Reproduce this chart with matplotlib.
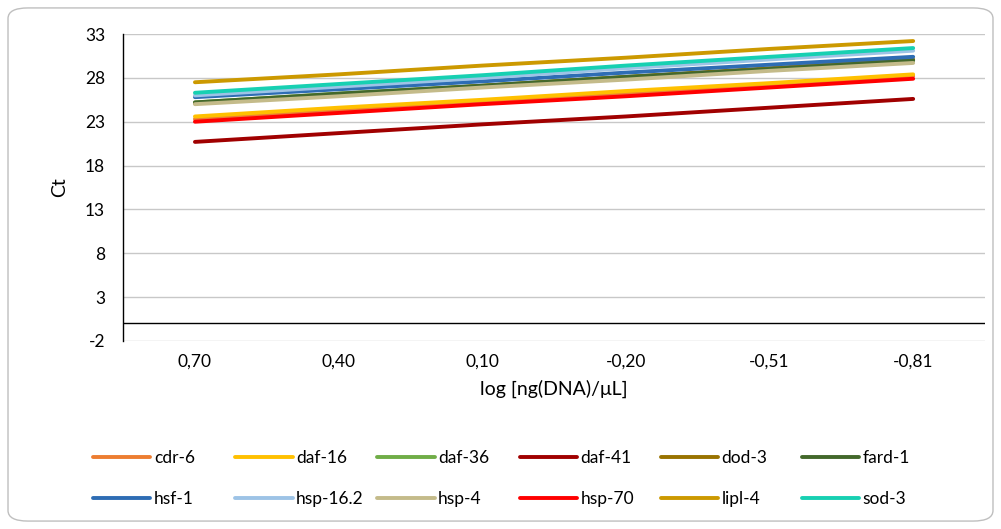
import matplotlib
matplotlib.use("Agg")
import matplotlib.pyplot as plt
from matplotlib.patches import FancyBboxPatch

plt.rcParams["font.family"] = ["Lato", "DejaVu Sans"]
plt.rcParams["axes.unicode_minus"] = False

# log concentration categories (x axis, shown as text)
x_labels = ["0,70", "0,40", "0,10", "-0,20", "-0,51", "-0,81"]

genes = ["cdr-6", "daf-16", "daf-36", "daf-41", "dod-3", "fard-1",
         "hsf-1", "hsp-16.2", "hsp-4", "hsp-70", "lipl-4", "sod-3"]

cdr6 = [23.3, 24.3, 25.2, 26.2, 27.2, 28.2]
daf16 = [23.6, 24.6, 25.5, 26.5, 27.4, 28.4]
daf36 = [25.2, 26.2, 27.1, 28.1, 29.0, 30.0]
daf41 = [20.7, 21.7, 22.7, 23.6, 24.6, 25.6]
dod3 = [25.1, 26.1, 27.1, 28.1, 29.1, 30.1]
fard1 = [25.2, 26.2, 27.1, 28.1, 29.0, 30.0]
hsf1 = [25.8, 26.7, 27.6, 28.6, 29.5, 30.4]
hsp16_2 = [26.0, 27.0, 28.0, 29.1, 30.1, 31.1]
hsp4 = [25.0, 25.9, 26.9, 27.8, 28.8, 29.7]
hsp70 = [23.0, 24.0, 25.0, 25.9, 26.9, 27.9]
lipl4 = [27.5, 28.4, 29.4, 30.3, 31.3, 32.2]
sod3 = [26.3, 27.3, 28.3, 29.4, 30.4, 31.4]

series = [cdr6, daf16, daf36, daf41, dod3, fard1,
          hsf1, hsp16_2, hsp4, hsp70, lipl4, sod3]
colors = ["#ED7D31", "#FFC000", "#70AD47", "#A00000", "#997300", "#43682B",
          "#2E6DB4", "#9DC3E6", "#C4BB8A", "#FF0000", "#CC9900", "#17D0B2"]

y_ticks = [-2, 3, 8, 13, 18, 23, 28, 33]

fig = plt.figure(figsize=(10.01, 5.29), dpi=100)
fig.patches.append(FancyBboxPatch((0.008, 0.015), 0.984, 0.970,
                                  boxstyle="round,pad=0,rounding_size=0.02",
                                  transform=fig.transFigure, facecolor="white",
                                  edgecolor="#bfbfbf", linewidth=1.0, zorder=-1))

ax = fig.add_axes([0.123, 0.3554, 0.861, 0.5803])
ax.set_facecolor("none")
xs = range(len(x_labels))
lines = []
for name, vals, col in zip(genes, series, colors):
    ln, = ax.plot(xs, vals, color=col, lw=2.8, label=name, solid_capstyle="round")
    lines.append(ln)

ax.axhline(0, color="black", lw=1.0, zorder=1)
ax.set_xlim(-0.5, len(x_labels) - 0.5)
ax.set_ylim(-2, 33)
ax.set_yticks(y_ticks)
ax.set_xticks(list(xs))
ax.set_xticklabels(x_labels)
ax.tick_params(axis="both", length=0, labelsize=12.5, colors="#000000")
ax.tick_params(axis="y", pad=13)
ax.tick_params(axis="x", pad=9)
ax.yaxis.grid(True, color="#c8c8c8", lw=1.0)
ax.set_axisbelow(True)
for s in ["top", "right", "bottom"]:
    ax.spines[s].set_visible(False)
ax.spines["left"].set_color("#000000")
ax.spines["left"].set_linewidth(1.0)
ax.set_ylabel("Ct", fontsize=14, labelpad=12)
ax.set_xlabel("log [ng(DNA)/μL]", fontsize=14, labelpad=7)

# legend: one small legend per column so the columns are evenly spaced like the original
col_x = [0.093, 0.235, 0.377, 0.519, 0.660, 0.801]
for j, x0 in enumerate(col_x):
    fig.legend([lines[j], lines[j + 6]], [genes[j], genes[j + 6]],
               loc="upper left", bbox_to_anchor=(x0, 0.150), frameon=False,
               fontsize=12.5, handlelength=3.3, handletextpad=0.2,
               labelspacing=1.45, borderaxespad=0, borderpad=0)

fig.savefig("out.png", dpi=100)
